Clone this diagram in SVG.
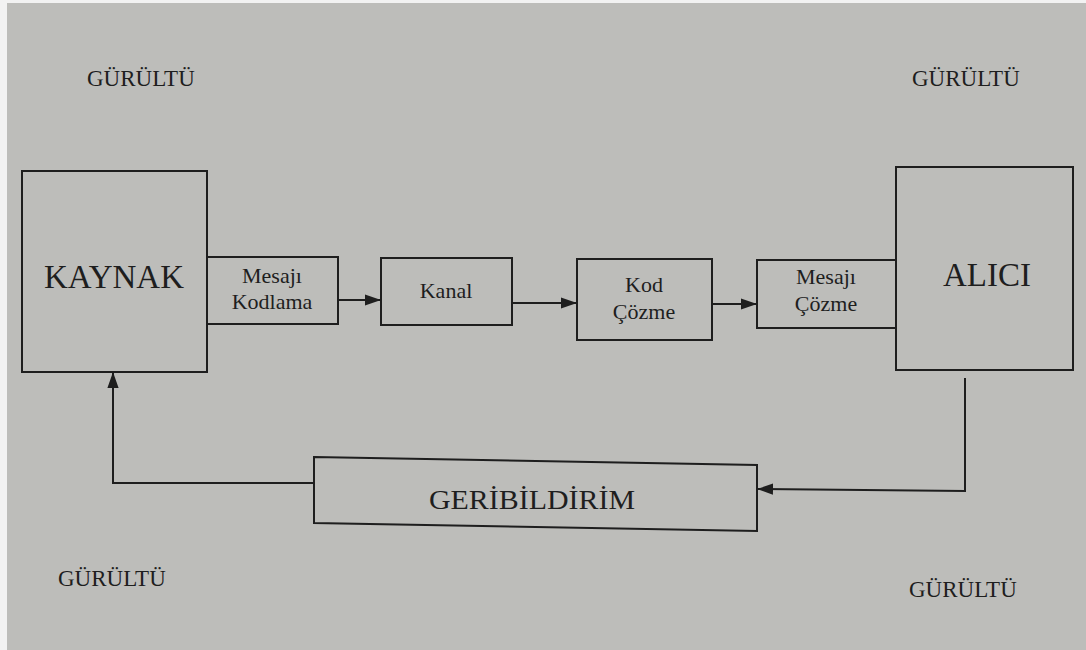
<svg xmlns="http://www.w3.org/2000/svg" width="1086" height="650" viewBox="0 0 1086 650">
<defs>
<style>
.bg{fill:#bdbdba}
.box{fill:none;stroke:#1e1e1e;stroke-width:2}
.line{fill:none;stroke:#1e1e1e;stroke-width:2}
text{font-family:"Liberation Serif","DejaVu Serif",serif;fill:#1e1e1e}
.n{font-size:23px}
.big{font-size:33px}
.mid{font-size:22px}
</style>
<marker id="ah2" viewBox="0 0 10 10" refX="10" refY="5" markerWidth="16" markerHeight="16" markerUnits="userSpaceOnUse" orient="auto">
<path d="M0,1.5 L10,5 L0,8.5 z" fill="#1e1e1e"/>
</marker>
</defs>
<rect width="1086" height="650" fill="#f2f2f2"/>
<rect class="bg" x="7" y="3" width="1079" height="647"/>

<text class="n" x="87" y="86">GÜRÜLTÜ</text>
<text class="n" x="912" y="86">GÜRÜLTÜ</text>
<text class="n" x="58" y="586">GÜRÜLTÜ</text>
<text class="n" x="909" y="597">GÜRÜLTÜ</text>

<g id="kaynak">
<rect class="box" x="22" y="171" width="185" height="201"/>
<text class="big" x="114" y="288" text-anchor="middle">KAYNAK</text>
</g>
<g id="mesaji-kodlama">
<rect class="box" x="207" y="257" width="131" height="67"/>
<text class="mid" x="272" y="283" text-anchor="middle">Mesajı</text>
<text class="mid" x="272" y="309" text-anchor="middle">Kodlama</text>
</g>
<g id="kanal">
<rect class="box" x="381" y="258" width="131" height="67"/>
<text class="mid" x="446" y="298" text-anchor="middle">Kanal</text>
</g>
<g id="kod-cozme">
<rect class="box" x="577" y="259" width="135" height="81"/>
<text class="mid" x="644" y="292" text-anchor="middle">Kod</text>
<text class="mid" x="644" y="319" text-anchor="middle">Çözme</text>
</g>
<g id="mesaji-cozme">
<rect class="box" x="757" y="260" width="139" height="68"/>
<text class="mid" x="826" y="284" text-anchor="middle">Mesajı</text>
<text class="mid" x="826" y="311" text-anchor="middle">Çözme</text>
</g>
<g id="alici">
<rect class="box" x="896" y="167" width="177" height="203"/>
<text class="big" x="987" y="286" text-anchor="middle" font-size="32">ALICI</text>
</g>
<g id="geribildirim">
<polygon class="box" points="314,457 757,465 757,531 314,523"/>
<text x="532" y="509" text-anchor="middle" font-size="27" textLength="206" lengthAdjust="spacingAndGlyphs">GERİBİLDİRİM</text>
</g>

<g id="connectors">
<line class="line" x1="338" y1="300" x2="381" y2="300" marker-end="url(#ah2)"/>
<line class="line" x1="512" y1="303" x2="577" y2="303" marker-end="url(#ah2)"/>
<line class="line" x1="712" y1="304" x2="757" y2="304" marker-end="url(#ah2)"/>
<polyline class="line" points="965,378 965,491 757,489" marker-end="url(#ah2)"/>
<polyline class="line" points="314,483 113,483 113,372" marker-end="url(#ah2)"/>
</g>
</svg>
